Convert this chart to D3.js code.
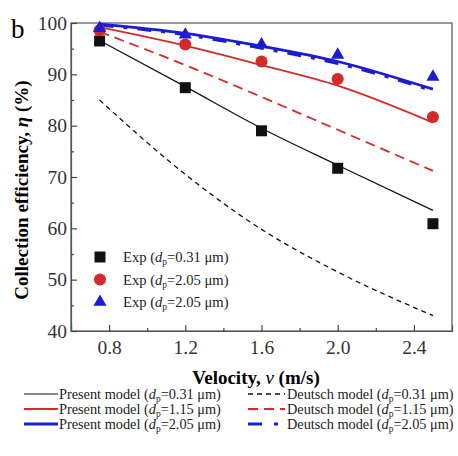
<!DOCTYPE html>
<html>
<head>
<meta charset="utf-8">
<script src="https://cdn.jsdelivr.net/npm/d3@7"></script>
<style>
  body { margin: 0; background: #fff; }
  text { font-family: "Liberation Serif", "Times New Roman", serif; }
</style>
</head>
<body>
<svg id="chart" width="458" height="456"></svg>
<script>
// velocities (m/s)
var vel = [0.75, 1.2, 1.6, 2.0, 2.5];

// experiments
var exp031 = [96.5, 87.4, 79.0, 71.7, 60.9];
var exp115 = [98.6, 95.8, 92.5, 89.1, 81.7];
var exp205 = [99.0, 97.7, 95.8, 93.8, 89.5];

// present model
var pres031 = [96.6, 87.6, 79.5, 72.3, 63.5];
var pres115 = [99.2, 95.6, 91.8, 87.8, 80.6];
var pres205 = [99.8, 98.0, 95.5, 92.5, 87.1];

// deutsch model
var deut031 = [85.0, 70.5, 59.8, 51.5, 43.0];
var deut115 = [98.3, 91.8, 85.6, 79.2, 71.2];
var deut205 = [99.6, 97.7, 95.1, 92.1, 86.8];

var xTicks = [0.8, 1.2, 1.6, 2.0, 2.4];
var yTicks = [40, 50, 60, 70, 80, 90, 100];

var svg = d3.select("#chart");
var pL = 71, pR = 452, pT = 23, pB = 331;

var x = d3.scaleLinear().domain([0.6, 2.6]).range([pL, pR]);
var y = d3.scaleLinear().domain([40, 100]).range([pB, pT]);

var black = "#111", red = "#d42a2a", blue = "#1c1cd0";

// frame
svg.append("rect")
  .attr("x", pL).attr("y", pT)
  .attr("width", pR - pL).attr("height", pB - pT)
  .attr("fill", "none").attr("stroke", "#555").attr("stroke-width", 1.2);

// axes, ticks inward
var xAxis = d3.axisBottom(x).tickValues(xTicks).tickSize(-6).tickPadding(9)
  .tickFormat(d3.format(".1f"));
svg.append("g").attr("transform", "translate(0," + pB + ")").call(xAxis);
svg.append("g").attr("transform", "translate(0," + pB + ")")
  .call(d3.axisBottom(x).tickValues([1.0, 1.4, 1.8, 2.2]).tickSize(-3).tickFormat(""))
  .select(".domain").remove();

var yAxis = d3.axisLeft(y).tickValues(yTicks).tickSize(-6).tickPadding(4);
svg.append("g").attr("transform", "translate(" + pL + ",0)").call(yAxis);
svg.append("g").attr("transform", "translate(" + pL + ",0)")
  .call(d3.axisLeft(y).tickValues([45, 55, 65, 75, 85, 95]).tickSize(-3).tickFormat(""))
  .select(".domain").remove();

svg.selectAll(".domain").attr("stroke", "#555").attr("stroke-width", 1.2);
svg.selectAll(".tick line").attr("stroke", "#444").attr("stroke-width", 1.2);
svg.selectAll(".tick text")
  .style("font-family", "'Liberation Serif', 'Times New Roman', serif")
  .style("font-size", "19.5px").attr("fill", "#333");

// panel letter
svg.append("text").attr("x", 11).attr("y", 38)
  .style("font-size", "27px").text("b");

// axis titles
var yl = svg.append("text")
  .attr("transform", "translate(28,190) rotate(-90)")
  .attr("text-anchor", "middle")
  .style("font-size", "19px").style("font-weight", "bold");
yl.append("tspan").text("Collection efficiency, ");
yl.append("tspan").style("font-style", "italic").text("η");
yl.append("tspan").text(" (%)");

var xl = svg.append("text").attr("x", 256).attr("y", 384)
  .attr("text-anchor", "middle")
  .style("font-size", "19px").style("font-weight", "bold");
xl.append("tspan").text("Velocity, ");
xl.append("tspan").style("font-style", "italic").style("font-weight", "normal").text("v");
xl.append("tspan").text(" (m/s)");

// lines
var line = d3.line()
  .x(function(d) { return x(d[0]); })
  .y(function(d) { return y(d[1]); })
  .curve(d3.curveMonotoneX);

function zipv(vals) { return vel.map(function(v, i) { return [v, vals[i]]; }); }

var series = [
  { vals: deut031, color: black, width: 1.3, dash: "5,4" },
  { vals: deut115, color: red, width: 1.8, dash: "10,6" },
  { vals: deut205, color: blue, width: 3, dash: "14,10,4,10" },
  { vals: pres031, color: black, width: 1.2, dash: null },
  { vals: pres115, color: red, width: 1.8, dash: null },
  { vals: pres205, color: blue, width: 2.8, dash: null }
];

series.forEach(function(s) {
  svg.append("path")
    .datum(zipv(s.vals))
    .attr("d", line)
    .attr("fill", "none")
    .attr("stroke", s.color)
    .attr("stroke-width", s.width)
    .attr("stroke-dasharray", s.dash);
});

// markers
var sq = d3.symbol().type(d3.symbolSquare).size(121);
var ci = d3.symbol().type(d3.symbolCircle).size(115);
var tr = d3.symbol().type(d3.symbolTriangle).size(75);

function drawMarkers(vals, sym, color) {
  svg.append("g").selectAll("path")
    .data(zipv(vals))
    .enter().append("path")
    .attr("transform", function(d) { return "translate(" + x(d[0]) + "," + y(d[1]) + ")"; })
    .attr("d", sym)
    .attr("fill", color);
}
drawMarkers(exp031, sq, black);
drawMarkers(exp115, ci, red);
drawMarkers(exp205, tr, blue);

// inner legend
var expLegend = [
  { sym: sq, color: black, size: "0.31" },
  { sym: ci, color: red, size: "2.05" },
  { sym: tr, color: blue, size: "2.05" }
];

function labelText(g, xPos, yPos, prefix, size, fs) {
  var t = g.append("text").attr("x", xPos).attr("y", yPos)
    .style("font-size", fs + "px").attr("fill", "#222");
  t.append("tspan").text(prefix + " (");
  t.append("tspan").style("font-style", "italic").text("d");
  t.append("tspan").attr("dy", 3).style("font-size", "9.5px").text("p");
  t.append("tspan").attr("dy", -3).text("=" + size + " μm)");
}

var lg = svg.append("g");
expLegend.forEach(function(d, i) {
  var yy = 257 + i * 22.5;
  lg.append("path").attr("transform", "translate(100," + yy + ")")
    .attr("d", d.sym).attr("fill", d.color);
  labelText(lg, 123, yy + 5, "Exp", d.size, 14.6);
});

// bottom legend
var modelSizes = ["0.31", "1.15", "2.05"];
var modelColors = [black, red, blue];
var presWidths = [1.2, 1.8, 2.8];
var deutDash = ["5,4", "10,6", "14,12,4,12"];
var deutWidths = [1.3, 1.8, 3];

var bl = svg.append("g");
modelSizes.forEach(function(s, i) {
  var yy = 394 + i * 15;
  bl.append("line").attr("x1", 24).attr("x2", 58).attr("y1", yy).attr("y2", yy)
    .attr("stroke", modelColors[i]).attr("stroke-width", presWidths[i]);
  labelText(bl, 59, yy + 5, "Present model", s, 14.3);
  bl.append("line").attr("x1", 248).attr("x2", 285).attr("y1", yy).attr("y2", yy)
    .attr("stroke", modelColors[i]).attr("stroke-width", deutWidths[i])
    .attr("stroke-dasharray", deutDash[i]);
  labelText(bl, 287, yy + 5, "Deutsch model", s, 14.3);
});
</script>
</body>
</html>
